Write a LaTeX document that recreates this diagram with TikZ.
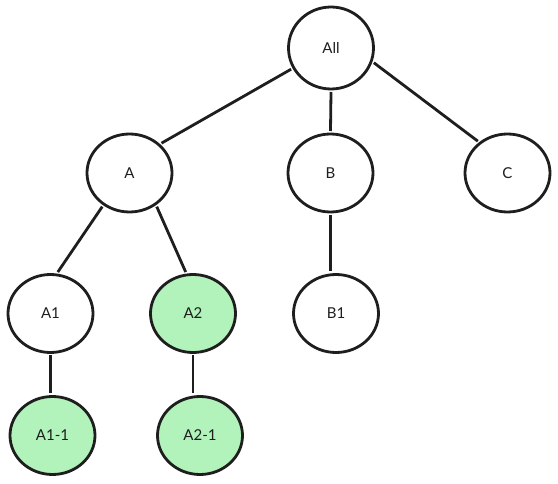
\documentclass[tikz,border=0pt]{standalone}
\usepackage{fontspec}
\setmainfont{Lato}
\usetikzlibrary{shapes.geometric}
\definecolor{ink}{HTML}{1E1E1E}
\definecolor{leaf}{HTML}{B2F2BB}
\tikzset{
  treenode/.style={ellipse, draw=ink, line width=2.8pt, fill=white,
    minimum width=85pt, minimum height=78pt, inner sep=0pt, outer sep=3pt,
    text=ink, font=\fontsize{15}{17}\selectfont},
  greennode/.style={treenode, fill=leaf},
  edge/.style={draw=ink, line width=2.8pt}
}
\begin{document}
\begin{tikzpicture}[x=1pt,y=-1pt]
\useasboundingbox (0,0) rectangle (558,484);
\node[treenode, minimum height=82pt] (all) at (331,48) {All};
\node[treenode] (a) at (129.5,173) {A};
\node[treenode] (b) at (330.5,173) {B};
\node[treenode] (c) at (507.5,173) {C};
\node[treenode] (a1) at (50.5,313.5) {A1};
\node[greennode] (a2) at (193,313.5) {A2};
\node[treenode] (b1) at (336,313.5) {B1};
\node[greennode] (a11) at (52.5,435.5) {A1-1};
\node[greennode] (a21) at (200,435.5) {A2-1};
\draw[edge] (all.208) -- (a.43);
\draw[edge] (all.south) -- (b.north);
\draw[edge] (all.341) -- (c.133);
\draw[edge] (a.231) -- (a1.80);
\draw[edge] (a.309) -- (a2.100);
\draw[edge] (b.south) -- (b.south |- b1.north);
\draw[edge] (a1.south) -- (a1.south |- a11.north);
\draw[edge] (a2.south) -- (a2.south |- a21.north);
\end{tikzpicture}
\end{document}
